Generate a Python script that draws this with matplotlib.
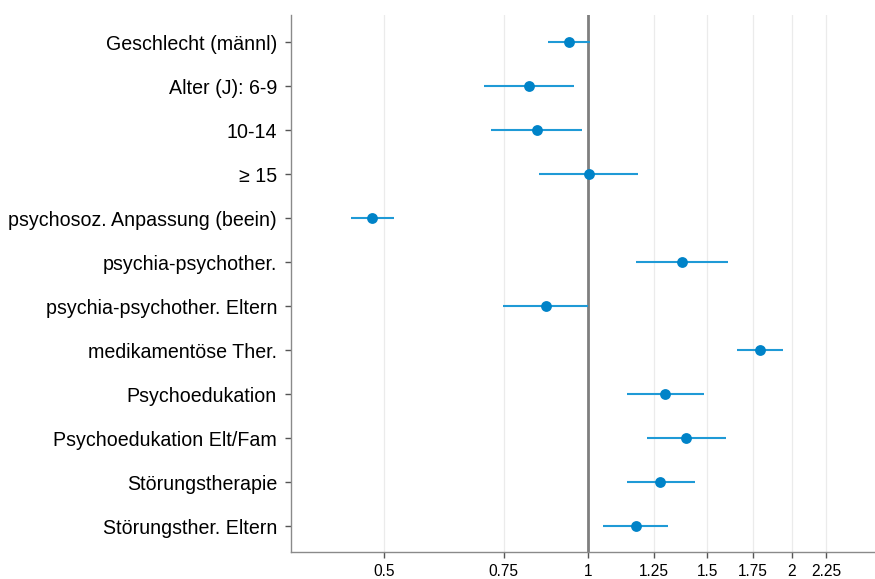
import numpy as np
import matplotlib
matplotlib.use("Agg")
import matplotlib.pyplot as plt

plt.rcParams['font.family'] = ['Liberation Sans', 'DejaVu Sans']

labels = [
    "Geschlecht (männl)",
    "Alter (J): 6-9",
    "10-14",
    "≥ 15",
    "psychosoz. Anpassung (beein)",
    "psychia-psychother.",
    "psychia-psychother. Eltern",
    "medikamentöse Ther.",
    "Psychoedukation",
    "Psychoedukation Elt/Fam",
    "Störungstherapie",
    "Störungsther. Eltern",
]
estimate = [0.936, 0.817, 0.841, 1.003, 0.480, 1.377, 0.866, 1.795, 1.299, 1.397, 1.277, 1.176]
ci_low = [0.872, 0.702, 0.719, 0.846, 0.447, 1.177, 0.749, 1.661, 1.141, 1.224, 1.142, 1.052]
ci_high = [1.008, 0.952, 0.980, 1.185, 0.516, 1.610, 1.001, 1.941, 1.482, 1.599, 1.437, 1.314]
x_ticks = [0.5, 0.75, 1, 1.25, 1.5, 1.75, 2, 2.25]
x_tick_labels = ["0.5", "0.75", "1", "1.25", "1.5", "1.75", "2", "2.25"]

fig = plt.figure(figsize=(8.75, 5.79), dpi=100)
ax = fig.add_axes([291 / 875, 1 - 552 / 579, (875 - 291) / 875, (552 - 15) / 579])

pos = np.arange(1, len(labels) + 1)
ax.set_xscale('log')
ax.set_xlim(0.364, 2.654)
ax.set_ylim(12.59, 0.386)

ax.minorticks_off()
ax.set_xticks(x_ticks)
ax.set_xticklabels(x_tick_labels, fontsize=11.2)
ax.set_yticks(pos)
ax.set_yticklabels(labels, fontsize=14.1)

for xv in x_ticks:
    ax.axvline(xv, color='#ebebeb', lw=0.9, zorder=0)
ax.axvline(1, color='#7f7f7f', lw=2.0, zorder=1)

ax.hlines(pos, ci_low, ci_high, color='#1f9ad6', lw=1.5, zorder=2)
ax.plot(estimate, pos, 'o', color='#0083c8', ms=7.8, zorder=3, mec='none')

for side in ['top', 'right']:
    ax.spines[side].set_visible(False)
for side in ['left', 'bottom']:
    ax.spines[side].set_color('#8a8a8a')
    ax.spines[side].set_linewidth(1.0)
ax.tick_params(axis='both', colors='#555555', length=4.5, width=1.0, labelcolor='black')
ax.tick_params(axis='y', pad=5.5)
ax.tick_params(axis='x', pad=4)

fig.savefig("out.png", dpi=100)
